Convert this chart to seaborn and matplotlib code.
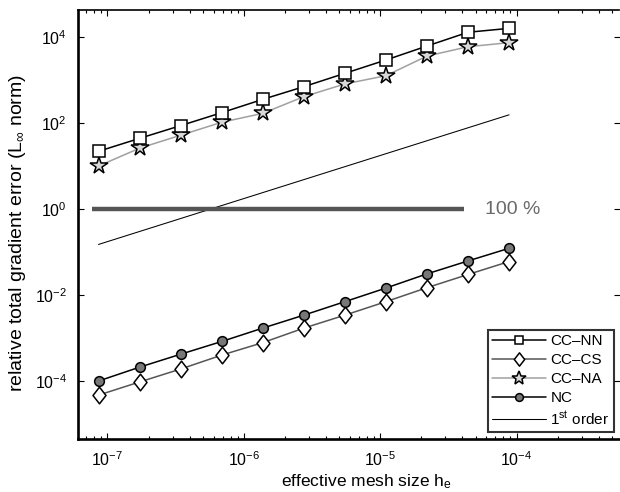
import numpy as np
import pandas as pd
import seaborn as sns
import matplotlib.pyplot as plt
from matplotlib.path import Path
from matplotlib.ticker import NullLocator, LogLocator

# effective mesh size (x) and error values
mesh_size = [8.6e-8, 1.72e-7, 3.44e-7, 6.88e-7, 1.376e-6, 2.752e-6,
             5.504e-6, 1.1e-5, 2.2e-5, 4.4e-5, 8.8e-5]
cc_nn = [22, 44, 87, 174, 355, 700, 1430, 2920, 6170, 12900, 15900]
cc_cs = [4.7e-5, 9.5e-5, 1.9e-4, 4.0e-4, 7.8e-4, 1.7e-3,
         3.4e-3, 7.0e-3, 1.48e-2, 3.0e-2, 6.0e-2]
cc_na = [10, 26, 52, 104, 168, 410, 810, 1260, 3600, 5950, 7400]
nc = [1.0e-4, 2.1e-4, 4.2e-4, 8.3e-4, 1.7e-3, 3.4e-3,
      7.0e-3, 1.45e-2, 3.1e-2, 6.2e-2, 0.122]

first_order_x = [8.6e-8, 8.8e-5]
first_order_y = [0.15, 155]

limit_x = [7.7e-8, 4.1e-5]
limit_y = [1, 1]
limit_label = "100 %"

series_names = ['CC–NN', 'CC–CS', 'CC–NA', 'NC']
first_order_label = '1$^{\\rm st}$ order'

y_ticks = [1e-4, 1e-2, 1e0, 1e2, 1e4]
x_ticks = [1e-7, 1e-6, 1e-5, 1e-4]

sns.set_style("ticks", {'axes.edgecolor': 'black', 'xtick.color': 'black',
                        'ytick.color': 'black', 'text.color': 'black',
                        'axes.labelcolor': 'black'})
plt.rcParams['font.family'] = ['Liberation Sans', 'DejaVu Sans']
plt.rcParams['mathtext.fontset'] = 'custom'
plt.rcParams['mathtext.rm'] = 'Liberation Sans'
plt.rcParams['mathtext.it'] = 'Liberation Sans:italic'
plt.rcParams['mathtext.sf'] = 'Liberation Sans'

fig = plt.figure(figsize=(6.2, 4.92), dpi=100)
ax = fig.add_axes([78 / 620, 1 - 439 / 492, 541.5 / 620, 429 / 492])
ax.set_xscale('log')
ax.set_yscale('log')

# tall diamond marker
tall_diamond = Path([(0, 1), (0.78, 0), (0, -1), (-0.78, 0), (0, 1)],
                    [Path.MOVETO, Path.LINETO, Path.LINETO, Path.LINETO, Path.CLOSEPOLY])

df = pd.DataFrame({'h': mesh_size, series_names[0]: cc_nn, series_names[1]: cc_cs,
                   series_names[2]: cc_na, series_names[3]: nc})

styles = {
    'CC–NN': dict(color='black', marker='s', markersize=8, markerfacecolor='white'),
    'CC–CS': dict(color='#555555', marker=tall_diamond, markersize=12, markerfacecolor='white'),
    'CC–NA': dict(color='#a0a0a0', marker='*', markersize=13, markerfacecolor='#d8d8d8'),
    'NC': dict(color='black', marker='o', markersize=7, markerfacecolor='#777777'),
}

# draw CC-CS first so it sits behind NC
for name in ['CC–CS', 'NC', 'CC–NA', 'CC–NN']:
    st = styles[name]
    sns.lineplot(data=df, x='h', y=name, ax=ax, label=name, linewidth=1.1,
                 markeredgecolor='black', markeredgewidth=1.1, sort=False, **st)

sns.lineplot(x=first_order_x, y=first_order_y, ax=ax, color='black',
             linewidth=0.75, label=first_order_label)

ax.plot(limit_x, limit_y, color='#555555', linewidth=3.2, solid_capstyle='butt')
ax.text(5.9e-5, 1, limit_label, color='#6a6a6a', fontsize=14, va='center', ha='left')

ax.set_xlim(6.08e-8, 5.68e-4)
ax.set_ylim(4.48e-6, 4.25e4)
ax.set_xticks(x_ticks)
ax.xaxis.set_minor_locator(LogLocator(base=10, subs=np.arange(2, 10), numticks=20))
ax.set_yticks(y_ticks)
ax.yaxis.set_minor_locator(NullLocator())

ax.tick_params(which='both', direction='in', top=True, right=True, labelsize=11.5, width=0.8)
ax.tick_params(which='major', length=4, pad=8)
ax.tick_params(which='minor', length=2)

ax.spines['left'].set_linewidth(1.9)
ax.spines['bottom'].set_linewidth(1.9)
ax.spines['top'].set_linewidth(1.2)
ax.spines['right'].set_visible(False)

ax.set_xlabel('effective mesh size h$_{\\rm e}$', fontsize=12.5)
ax.xaxis.set_label_coords(0.532, -0.077)
ax.set_ylabel('relative total gradient error (L$_{\\infty}$ norm)', fontsize=14)
ax.yaxis.set_label_coords(-0.092, 0.48)

handles, labels = ax.get_legend_handles_labels()
order = series_names + [first_order_label]
hmap = dict(zip(labels, handles))
leg = ax.legend([hmap[k] for k in order], order, loc='lower right',
                fontsize=11, markerscale=0.8,
                frameon=True, fancybox=False, edgecolor='black',
                labelspacing=0.32, handlelength=3.5, handletextpad=0.3,
                borderpad=0.3, borderaxespad=0)
leg.set_bbox_to_anchor((614 / 620, 1 - 432 / 492), transform=fig.transFigure)
leg.get_frame().set_linewidth(1.5)

fig.savefig('out.png', dpi=100)
